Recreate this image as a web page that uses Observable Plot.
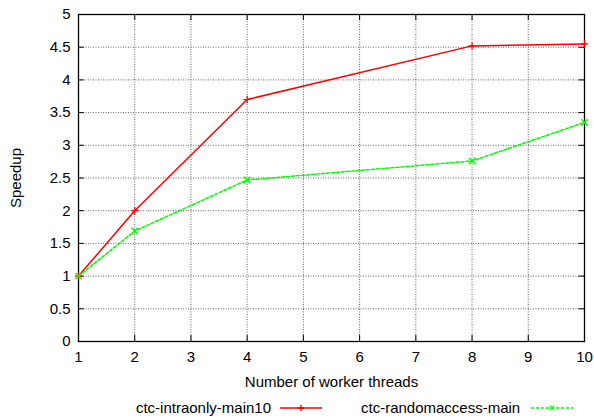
<!DOCTYPE html>
<html>
<head>
<meta charset="utf-8">
<script src="https://cdn.jsdelivr.net/npm/d3@7"></script>
<script src="https://cdn.jsdelivr.net/npm/@observablehq/plot@0.6"></script>
<style>
  body { margin: 0; background: #fff; font-family: "Liberation Sans", Arial, sans-serif; }
  #chart svg { display: block; }
  #legend { position: relative; width: 594px; height: 25px; font-size: 15px; color: #000; }
  #legend span { position: absolute; top: 4px; white-space: nowrap; line-height: 17px; }
  #legend svg { position: absolute; top: 7px; }
</style>
</head>
<body>
<div id="chart"></div>
<div id="legend"></div>
<script>
const threads = [1, 2, 4, 8, 10];
const intraonly = [1.0, 2.0, 3.7, 4.52, 4.55];
const randomaccess = [1.0, 1.69, 2.47, 2.76, 3.35];
const seriesNames = ["ctc-intraonly-main10", "ctc-randomaccess-main"];
const xTicks = [1, 2, 3, 4, 5, 6, 7, 8, 9, 10];
const yTicks = [0, 0.5, 1, 1.5, 2, 2.5, 3, 3.5, 4, 4.5, 5];

const red = "#ff0000", green = "#00ff00";
const dataA = threads.map((t, i) => ({x: t, y: intraonly[i]}));
const dataB = threads.map((t, i) => ({x: t, y: randomaccess[i]}));

const W = 594, H = 395, mT = 14, mB = 54, mL = 78, mR = 10;
const innerH = H - mT - mB;
const tick = 6;

const plot = Plot.plot({
  width: W, height: H,
  marginTop: mT, marginBottom: mB, marginLeft: mL, marginRight: mR,
  style: {fontFamily: "Liberation Sans, Arial, sans-serif", fontSize: "15px", color: "#000", background: "#fff"},
  x: {domain: [1, 10]},
  y: {domain: [0, 5]},
  marks: [
    Plot.gridX(xTicks.slice(1, -1), {stroke: "#666", strokeOpacity: 1, strokeDasharray: "1,1.5"}),
    Plot.gridY(yTicks.slice(1, -1), {stroke: "#666", strokeOpacity: 1, strokeDasharray: "1,1.5"}),
    Plot.ruleX(xTicks, {insetTop: innerH - tick, stroke: "#000"}),
    Plot.ruleX(xTicks, {insetBottom: innerH - tick, stroke: "#000"}),
    Plot.ruleY(yTicks, {x1: 1, x2: 1.1, stroke: "#000"}),
    Plot.ruleY(yTicks, {x1: 9.9, x2: 10, stroke: "#000"}),
    Plot.axisX(xTicks, {tickSize: 0, tickPadding: 10, fontSize: 15, label: "Number of worker threads", labelAnchor: "center", labelArrow: "none", labelOffset: 45}),
    Plot.axisY(yTicks, {tickSize: 0, tickPadding: 8, fontSize: 15, tickFormat: d => String(d), label: "Speedup", labelAnchor: "center", labelArrow: "none", labelOffset: 68}),
    Plot.frame({stroke: "#000", strokeWidth: 1.3}),
    Plot.line(dataA, {x: "x", y: "y", stroke: red, strokeWidth: 1.5}),
    Plot.dot(dataA, {x: "x", y: "y", symbol: "plus", stroke: red, r: 2.5, strokeWidth: 1.2}),
    Plot.line(dataB, {x: "x", y: "y", stroke: green, strokeWidth: 1.5, strokeDasharray: "3,2"}),
    Plot.dot(dataB, {x: "x", y: "y", symbol: "times", stroke: green, r: 3, strokeWidth: 1.5})
  ]
});
document.getElementById("chart").appendChild(plot);

// legend
const legend = document.getElementById("legend");
function addText(txt, left, right) {
  const s = document.createElement("span");
  s.textContent = txt;
  if (right !== undefined) { s.style.right = (594 - right) + "px"; s.style.textAlign = "right"; }
  else s.style.left = left + "px";
  legend.appendChild(s);
}
function addSample(left, color, dashed, sym) {
  const ns = "http://www.w3.org/2000/svg";
  const svg = document.createElementNS(ns, "svg");
  svg.setAttribute("width", 44); svg.setAttribute("height", 12);
  svg.style.left = left + "px";
  const l = document.createElementNS(ns, "line");
  l.setAttribute("x1", 0); l.setAttribute("x2", 42); l.setAttribute("y1", 6); l.setAttribute("y2", 6);
  l.setAttribute("stroke", color); l.setAttribute("stroke-width", 1.5);
  if (dashed) l.setAttribute("stroke-dasharray", "3,2");
  svg.appendChild(l);
  const p = document.createElementNS(ns, "path");
  p.setAttribute("d", d3.symbol(sym === "plus" ? d3.symbolPlus : d3.symbolTimes, 16)());
  p.setAttribute("transform", "translate(21,6)");
  p.setAttribute("fill", "none"); p.setAttribute("stroke", color); p.setAttribute("stroke-width", 1.3);
  svg.appendChild(p);
  legend.appendChild(svg);
}
addText(seriesNames[0], undefined, 271);
addSample(280, red, false, "plus");
addText(seriesNames[1], 361);
addSample(531, green, true, "times");
</script>
</body>
</html>
